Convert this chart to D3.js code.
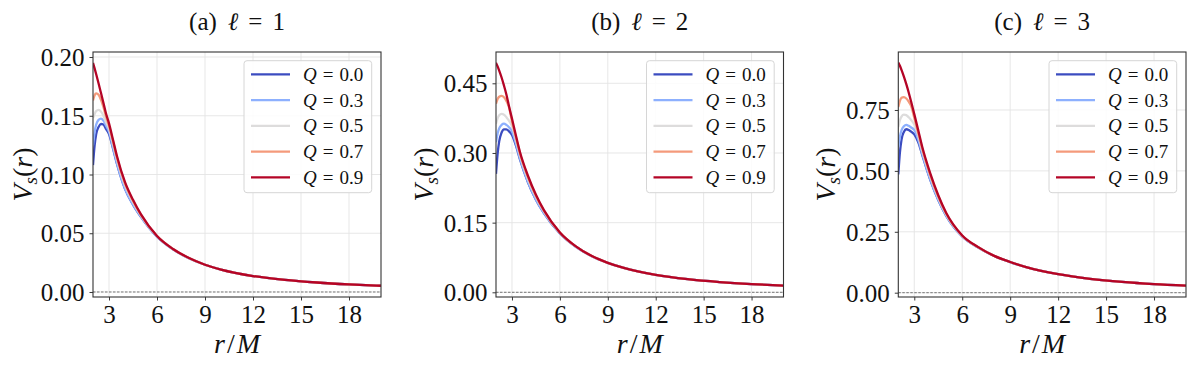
<!DOCTYPE html>
<html>
<head>
<meta charset="utf-8">
<script src="https://cdn.jsdelivr.net/npm/d3@7"></script>
<style>
  body { margin: 0; background: #fff; }
  svg { font-family: "Liberation Serif", "DejaVu Serif", serif; }
</style>
</head>
<body>
<div id="chart"></div>
<script>
// radial grid r/M shared by every curve
const rGrid = [2, 2.1, 2.2, 2.35, 2.5, 2.65, 2.8, 3, 3.25, 3.5, 4, 4.5, 5, 6, 7, 8, 9, 10, 12, 14, 16, 18, 20];

const qValues = [0.0, 0.3, 0.5, 0.7, 0.9];
const qColors = ["#3b4cc0", "#8db0fe", "#dddcdc", "#f49a7b", "#b40426"];
const xTicks = [3, 6, 9, 12, 15, 18];

// V_s(r), one row per Q (0.0, 0.3, 0.5, 0.7, 0.9)
const vsL1 = [
  [0.108, 0.1245, 0.1345, 0.1405, 0.143, 0.1425, 0.139, 0.1345, 0.1222, 0.109, 0.0878, 0.0744, 0.0639, 0.047, 0.0363, 0.0287, 0.0232, 0.0191, 0.0136, 0.0103, 0.0081, 0.0065, 0.0053],
  [0.125, 0.136, 0.1425, 0.1465, 0.1475, 0.1458, 0.142, 0.1365, 0.123, 0.1095, 0.088, 0.0745, 0.064, 0.0471, 0.0364, 0.0287, 0.0232, 0.0191, 0.0136, 0.0103, 0.0081, 0.0065, 0.0053],
  [0.148, 0.1515, 0.154, 0.155, 0.1535, 0.150, 0.1448, 0.139, 0.1262, 0.1125, 0.0907, 0.0765, 0.065, 0.0474, 0.0365, 0.0288, 0.0232, 0.0191, 0.0136, 0.0103, 0.0081, 0.0065, 0.0053],
  [0.163, 0.1675, 0.169, 0.1678, 0.1635, 0.1575, 0.150, 0.1415, 0.128, 0.114, 0.0922, 0.0775, 0.0655, 0.0476, 0.0366, 0.0289, 0.0232, 0.0191, 0.0136, 0.0103, 0.0081, 0.0065, 0.0053],
  [0.195, 0.1903, 0.1853, 0.1775, 0.1693, 0.161, 0.1525, 0.1435, 0.1295, 0.1155, 0.0935, 0.0785, 0.066, 0.0477, 0.0366, 0.0289, 0.0232, 0.0191, 0.0136, 0.0103, 0.0081, 0.0065, 0.0053]
];
const vsL2 = [
  [0.255, 0.298, 0.325, 0.344, 0.351, 0.351, 0.347, 0.339, 0.316, 0.286, 0.237, 0.1995, 0.1705, 0.1268, 0.098, 0.0777, 0.0634, 0.0525, 0.0375, 0.0282, 0.022, 0.0176, 0.0145],
  [0.323, 0.342, 0.353, 0.3605, 0.363, 0.3605, 0.356, 0.347, 0.320, 0.288, 0.238, 0.200, 0.171, 0.127, 0.098, 0.0777, 0.0634, 0.0525, 0.0375, 0.0282, 0.022, 0.0176, 0.0145],
  [0.363, 0.3745, 0.381, 0.384, 0.3825, 0.377, 0.370, 0.358, 0.328, 0.295, 0.244, 0.205, 0.174, 0.128, 0.0985, 0.0779, 0.0635, 0.0525, 0.0375, 0.0282, 0.022, 0.0176, 0.0145],
  [0.406, 0.416, 0.421, 0.4228, 0.420, 0.412, 0.400, 0.368, 0.333, 0.299, 0.248, 0.2075, 0.1755, 0.1285, 0.0988, 0.078, 0.0635, 0.0525, 0.0375, 0.0282, 0.022, 0.0176, 0.0145],
  [0.494, 0.4865, 0.4775, 0.4625, 0.445, 0.426, 0.403, 0.374, 0.337, 0.302, 0.251, 0.210, 0.177, 0.129, 0.099, 0.078, 0.0635, 0.0525, 0.0375, 0.0282, 0.022, 0.0176, 0.0145]
];
const vsL3 = [
  [0.485, 0.575, 0.628, 0.660, 0.671, 0.668, 0.661, 0.650, 0.617, 0.565, 0.463, 0.380, 0.315, 0.2305, 0.1853, 0.1505, 0.1257, 0.1049, 0.076, 0.057, 0.044, 0.035, 0.029],
  [0.598, 0.640, 0.666, 0.683, 0.689, 0.685, 0.678, 0.668, 0.628, 0.570, 0.465, 0.381, 0.316, 0.231, 0.1855, 0.1506, 0.1258, 0.1049, 0.076, 0.057, 0.044, 0.035, 0.029],
  [0.680, 0.708, 0.723, 0.731, 0.729, 0.720, 0.709, 0.690, 0.645, 0.583, 0.477, 0.390, 0.321, 0.233, 0.1862, 0.1508, 0.1259, 0.105, 0.076, 0.057, 0.044, 0.035, 0.029],
  [0.762, 0.787, 0.800, 0.8028, 0.797, 0.784, 0.767, 0.718, 0.655, 0.590, 0.483, 0.395, 0.324, 0.234, 0.1866, 0.151, 0.126, 0.105, 0.076, 0.057, 0.044, 0.035, 0.029],
  [0.945, 0.9315, 0.915, 0.887, 0.856, 0.822, 0.785, 0.733, 0.666, 0.598, 0.490, 0.400, 0.327, 0.235, 0.187, 0.151, 0.126, 0.105, 0.076, 0.057, 0.044, 0.035, 0.029]
];

const yTicksL1 = [0, 0.05, 0.10, 0.15, 0.20];
const yTicksL2 = [0, 0.15, 0.30, 0.45];
const yTicksL3 = [0, 0.25, 0.50, 0.75];

const panels = [
  {tag: "(a)", ell: "1", series: vsL1, yTicks: yTicksL1, yDomain: [-0.00426, 0.20426], left: 93, right: 381, ylabX: 32},
  {tag: "(b)", ell: "2", series: vsL2, yTicks: yTicksL2, yDomain: [-0.0101, 0.5174], left: 496, right: 783.5, ylabX: 433},
  {tag: "(c)", ell: "3", series: vsL3, yTicks: yTicksL3, yDomain: [-0.0177, 0.988], left: 898.3, right: 1186, ylabX: 835}
];

const W = 1194, H = 370;
const plotTop = 52, plotBottom = 297;

const svg = d3.select("#chart").append("svg")
  .attr("width", W).attr("height", H);

panels.forEach(p => {
  const x = d3.scaleLinear().domain([2, 20]).range([p.left, p.right]);
  const y = d3.scaleLinear().domain(p.yDomain).range([plotBottom, plotTop]);
  const g = svg.append("g");

  // grid
  g.append("g").selectAll("line").data(xTicks).enter().append("line")
    .attr("x1", d => x(d)).attr("x2", d => x(d))
    .attr("y1", plotTop).attr("y2", plotBottom)
    .attr("stroke", "#e4e4e4").attr("stroke-width", 0.9);
  g.append("g").selectAll("line").data(p.yTicks).enter().append("line")
    .attr("x1", p.left).attr("x2", p.right)
    .attr("y1", d => y(d)).attr("y2", d => y(d))
    .attr("stroke", "#e4e4e4").attr("stroke-width", 0.9);

  // zero line
  g.append("line")
    .attr("x1", p.left).attr("x2", p.right)
    .attr("y1", y(0)).attr("y2", y(0))
    .attr("stroke", "#444").attr("stroke-width", 0.7)
    .attr("stroke-dasharray", "2.5,1.5");

  // curves
  const clipId = "clip" + p.ell;
  svg.append("clipPath").attr("id", clipId).append("rect")
    .attr("x", p.left).attr("y", plotTop)
    .attr("width", p.right - p.left).attr("height", plotBottom - plotTop);

  const line = d3.line()
    .x((d, i) => x(rGrid[i]))
    .y(d => y(d))
    .curve(d3.curveMonotoneX);

  g.append("g").attr("clip-path", "url(#" + clipId + ")")
    .selectAll("path").data(p.series).enter().append("path")
    .attr("d", d => line(d))
    .attr("fill", "none")
    .attr("stroke", (d, i) => qColors[i])
    .attr("stroke-width", 2.3)
    .attr("stroke-linejoin", "round");

  // axes
  const xAxis = g.append("g")
    .attr("transform", "translate(0," + plotBottom + ")")
    .call(d3.axisBottom(x).tickValues(xTicks).tickSize(3.5).tickPadding(4).tickFormat(d3.format("d")));
  const yAxis = g.append("g")
    .attr("transform", "translate(" + p.left + ",0)")
    .call(d3.axisLeft(y).tickValues(p.yTicks).tickSize(3.5).tickPadding(5).tickFormat(d3.format(".2f")));

  [xAxis, yAxis].forEach(a => {
    a.attr("font-family", null).attr("font-size", 25);
    a.select(".domain").remove();
    a.selectAll(".tick line").attr("stroke", "#222").attr("stroke-width", 0.9);
    a.selectAll(".tick text").attr("fill", "#111");
  });
  xAxis.selectAll(".tick text").attr("dy", "0.74em");
  yAxis.selectAll(".tick text").attr("dy", "0.34em");

  // frame
  g.append("rect")
    .attr("x", p.left).attr("y", plotTop)
    .attr("width", p.right - p.left).attr("height", plotBottom - plotTop)
    .attr("fill", "none").attr("stroke", "#333").attr("stroke-width", 1.1);

  // title
  const cx = (p.left + p.right) / 2;
  const title = g.append("text")
    .attr("x", cx).attr("y", 30)
    .attr("text-anchor", "middle").attr("font-size", 25).attr("fill", "#111");
  title.append("tspan").text(p.tag);
  title.append("tspan").attr("dx", 11).attr("font-style", "italic").text("\u2113");
  title.append("tspan").attr("dx", 10).text("=");
  title.append("tspan").attr("dx", 10).text(p.ell);

  // x label
  const xl = g.append("text")
    .attr("x", cx).attr("y", 353)
    .attr("text-anchor", "middle").attr("font-size", 28).attr("fill", "#111");
  xl.append("tspan").attr("font-style", "italic").text("r");
  xl.append("tspan").attr("dx", 2).text("/");
  xl.append("tspan").attr("dx", 2).attr("font-style", "italic").text("M");

  // y label
  const yl = g.append("text")
    .attr("transform", "translate(" + p.ylabX + "," + ((plotTop + plotBottom) / 2) + ") rotate(-90)")
    .attr("text-anchor", "middle").attr("font-size", 28).attr("fill", "#111");
  yl.append("tspan").attr("font-style", "italic").text("V");
  yl.append("tspan").attr("font-style", "italic").attr("font-size", 19).attr("dy", 5).text("s");
  yl.append("tspan").attr("dy", -5).text("(");
  yl.append("tspan").attr("font-style", "italic").text("r");
  yl.append("tspan").text(")");

  // legend
  const lx = p.right - 137, ly = 60.7;
  const leg = g.append("g");
  leg.append("rect")
    .attr("x", lx).attr("y", ly).attr("width", 127.7).attr("height", 132)
    .attr("rx", 3).attr("fill", "#fff").attr("fill-opacity", 0.85)
    .attr("stroke", "#d6d6d6").attr("stroke-width", 1);
  const rows = leg.selectAll("g.row").data(qValues).enter().append("g")
    .attr("class", "row")
    .attr("transform", (d, i) => "translate(" + lx + "," + (ly + 13.6 + i * 25.75) + ")");
  rows.append("line")
    .attr("x1", 7).attr("x2", 46)
    .attr("stroke", (d, i) => qColors[i]).attr("stroke-width", 2.3);
  const lt = rows.append("text")
    .attr("x", 59).attr("dy", "0.35em")
    .attr("font-size", 19).attr("fill", "#111");
  lt.append("tspan").attr("font-style", "italic").text("Q");
  lt.append("tspan").attr("dx", 6).text("=");
  lt.append("tspan").attr("dx", 6).text(d => d3.format(".1f")(d));
});
</script>
</body>
</html>
